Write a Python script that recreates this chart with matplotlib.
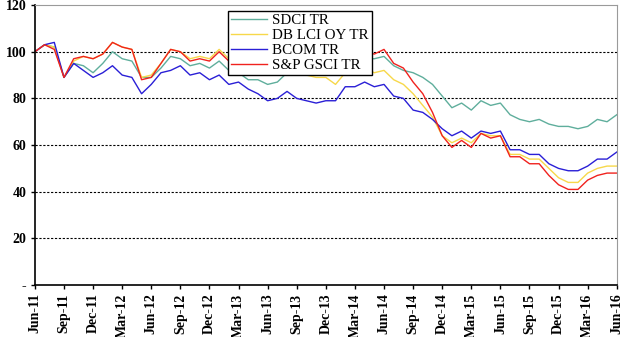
import numpy as np
import pandas as pd
import matplotlib
matplotlib.use("Agg")
import matplotlib.pyplot as plt

# === Monatsdaten Jun-11 .. Jun-16 ===
months = pd.date_range("2011-06-01", "2016-06-01", freq="MS")

sdci = [100, 103, 102, 89, 95, 94, 91, 95, 100, 97, 96, 89, 89, 93, 98, 97,
        94, 95, 93, 96, 92, 91, 88, 88, 86, 87, 91, 91, 90, 91, 92, 91,
        94, 96, 97, 97, 98, 94, 92, 91, 89, 86, 81, 76, 78, 75, 79, 77,
        78, 73, 71, 70, 71, 69, 68, 68, 67, 68, 71, 70, 73]
db_lci = [100, 103, 102, 89, 96, 98, 97, 99, 104, 102, 101, 89, 90, 95, 101, 100,
          97, 98, 97, 101, 97, 96, 94, 92, 90, 92, 94, 91, 90, 89, 89, 86,
          91, 92, 93, 91, 92, 88, 86, 82, 77, 72, 64, 61, 63, 61, 65, 64,
          64, 56, 56, 54, 54, 50, 46, 44, 44, 48, 50, 51, 51]
bcom = [100, 103, 104, 89, 95, 92, 89, 91, 94, 90, 89, 82, 86, 91, 92, 94,
        90, 91, 88, 90, 86, 87, 84, 82, 79, 80, 83, 80, 79, 78, 79, 79,
        85, 85, 87, 85, 86, 81, 80, 75, 74, 71, 67, 64, 66, 63, 66, 65,
        66, 58, 58, 56, 56, 52, 50, 49, 49, 51, 54, 54, 57]
sp_gsci = [100, 103, 101, 89, 97, 98, 97, 99, 104, 102, 101, 88, 89, 95, 101, 100,
           96, 97, 96, 100, 96, 96, 93, 92, 90, 93, 96, 92, 91, 91, 93, 93,
           96, 99, 100, 99, 101, 95, 93, 87, 82, 74, 64, 59, 62, 59, 65, 63,
           64, 55, 55, 52, 52, 47, 43, 41, 41, 45, 47, 48, 48]

series = [
    ("SDCI TR", sdci, "#5fae9c"),
    ("DB LCI OY TR", db_lci, "#f7d84a"),
    ("BCOM TR", bcom, "#2a1fd6"),
    ("S&P GSCI TR", sp_gsci, "#f0221e"),
]

plt.rcParams["font.family"] = ["Liberation Serif", "DejaVu Serif"]

fig = plt.figure(figsize=(6.23, 3.37), dpi=100)
ax = fig.add_axes([0.056, 0.154, 0.934, 0.831])

x = np.arange(len(months))
for name, vals, col in series:
    ax.plot(x, vals, color=col, lw=1.0, label=name)

ax.set_xlim(0, len(months) - 1)
ax.set_ylim(0, 120)

# Y-Achse
yt = [0, 20, 40, 60, 80, 100, 120]
ax.set_yticks(yt)
ax.set_yticklabels(["-" if v == 0 else str(v) for v in yt],
                   fontweight="bold", fontsize=10)
for v in yt[1:-1]:
    ax.axhline(v, color="black", ls=(0, (2, 1.5)), lw=0.8, zorder=0)

# X-Achse: alle 3 Monate
xt = x[::3]
ax.set_xticks(xt)
ax.set_xticklabels([months[i].strftime("%b-%y") for i in xt],
                   rotation=90, fontweight="bold", fontsize=10)
ax.tick_params(axis="both", direction="out", length=3, width=1, pad=3)

ax.spines["left"].set_color("black")
ax.spines["bottom"].set_color("black")
ax.spines["left"].set_linewidth(1.2)
ax.spines["bottom"].set_linewidth(1.2)
ax.spines["top"].set_color("#9a9a9a")
ax.spines["right"].set_color("#9a9a9a")

leg = ax.legend(loc="upper left", bbox_to_anchor=(0.325, 0.995), fontsize=10.8,
                frameon=True, fancybox=False, handlelength=2.4,
                borderpad=0.2, labelspacing=0.1, handletextpad=0.3,
                borderaxespad=0.3, framealpha=1)
leg.get_frame().set_edgecolor("black")
leg.get_frame().set_linewidth(1.0)

fig.savefig("out.png", dpi=100)
